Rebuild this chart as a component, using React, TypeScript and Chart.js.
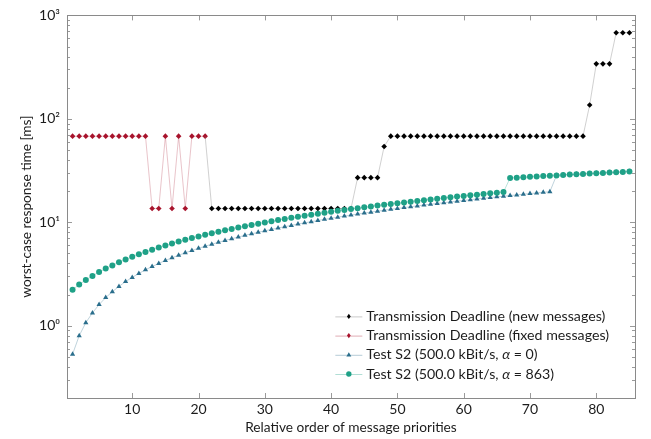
import React, { useEffect, useRef } from 'react';
import { Chart, registerables } from 'chart.js';

Chart.register(...registerables);

// ---------- data ----------
// x positions are message priority order 1..85
const fixedStart = 1;
const fixedDeadline = [68, 68, 68, 68, 68, 68, 68, 68, 68, 68, 68, 68, 13.6, 13.6, 68, 13.6, 68, 13.6, 68, 68, 68];

// first value (x = 21) only links the two deadline series, it has no marker
const newStart = 21;
const newDeadline = [
  68,
  13.6, 13.6, 13.6, 13.6, 13.6, 13.6, 13.6, 13.6, 13.6, 13.6, 13.6,
  13.6, 13.6, 13.6, 13.6, 13.6, 13.6, 13.6, 13.6, 13.6, 13.6, 13.6,
  27, 27, 27, 27,
  54,
  68, 68, 68, 68, 68, 68, 68, 68, 68, 68, 68, 68, 68, 68, 68,
  68, 68, 68, 68, 68, 68, 68, 68, 68, 68, 68, 68, 68, 68, 68,
  136,
  340, 340, 340,
  680, 680, 680,
];

const alpha0Start = 1;
const alpha0 = [
  0.53, 0.80, 1.07, 1.33, 1.60, 1.87, 2.13, 2.40, 2.67, 2.93,
  3.20, 3.47, 3.73, 4.00, 4.27, 4.53, 4.80, 5.07, 5.33, 5.60,
  5.87, 6.13, 6.40, 6.67, 6.93, 7.20, 7.47, 7.73, 8.00, 8.27,
  8.53, 8.80, 9.07, 9.33, 9.60, 9.87, 10.13, 10.40, 10.67, 10.93,
  11.20, 11.47, 11.73, 12.00, 12.27, 12.53, 12.80, 13.07, 13.33, 13.60,
  13.87, 14.13, 14.40, 14.67, 14.93, 15.20, 15.47, 15.73, 16.00, 16.27,
  16.53, 16.80, 17.07, 17.33, 17.60, 17.87, 18.13, 18.40, 18.67, 18.93,
  19.20, 19.47, 19.73, 28.4, 28.7, 28.9, 29.1, 29.3, 29.6, 29.8,
  30.0, 30.3, 30.5, 30.7, 31.0,
];

const alpha863Start = 1;
const alpha863 = [
  2.23, 2.50, 2.77, 3.03, 3.30, 3.57, 3.83, 4.10, 4.37, 4.63,
  4.90, 5.17, 5.43, 5.70, 5.97, 6.23, 6.50, 6.77, 7.03, 7.30,
  7.57, 7.83, 8.10, 8.37, 8.63, 8.90, 9.17, 9.43, 9.70, 9.97,
  10.23, 10.50, 10.77, 11.03, 11.30, 11.57, 11.83, 12.10, 12.37, 12.63,
  12.90, 13.17, 13.43, 13.70, 13.97, 14.23, 14.50, 14.77, 15.03, 15.30,
  15.57, 15.83, 16.10, 16.37, 16.63, 16.90, 17.17, 17.43, 17.70, 17.97,
  18.23, 18.50, 18.77, 19.03, 19.30, 19.57, 26.8, 27.0, 27.3, 27.5,
  27.7, 28.0, 28.2, 28.4, 28.7, 28.9, 29.1, 29.3, 29.6, 29.8,
  30.0, 30.3, 30.5, 30.7, 31.0,
];

const xTicks = [10, 20, 30, 40, 50, 60, 70, 80];
const yTicks = [1, 10, 100, 1000];
const yTickLabels = ['10⁰', '10¹', '10²', '10³'];
const xRange = [0.16, 85.84];
const yRange = [0.2, 1000];

const legendLabels = [
  ['Transmission Deadline (new messages)'],
  ['Transmission Deadline (fixed messages)'],
  ['Test S2 (500.0 kBit/s, ', 'α', ' = 0)'],
  ['Test S2 (500.0 kBit/s, ', 'α', ' = 863)'],
];

const xTitle = 'Relative order of message priorities';
const yTitle = 'worst-case response time [ms]';

// ---------- styles ----------
const FONT = 'Lato, "DejaVu Sans", sans-serif';
const TEXT = '#1c1c1c';
const C_NEW = '#000000';
const C_FIXED = '#a8132c';
const C_A0 = '#2a6e8c';
const C_A863 = '#1fa187';

const toPoints = (start: number, vals: number[]) => vals.map((v, i) => ({ x: start + i, y: v }));

function fade(hex: string, a: number) {
  const n = parseInt(hex.slice(1), 16);
  return `rgba(${(n >> 16) & 255},${(n >> 8) & 255},${n & 255},${a})`;
}

function drawMarker(ctx: CanvasRenderingContext2D, kind: string, x: number, y: number, r: number, color: string) {
  ctx.save();
  ctx.fillStyle = color;
  ctx.beginPath();
  if (kind === 'diamond') {
    ctx.moveTo(x, y - r * 1.15);
    ctx.lineTo(x + r * 0.85, y);
    ctx.lineTo(x, y + r * 1.15);
    ctx.lineTo(x - r * 0.85, y);
  } else if (kind === 'triangle') {
    ctx.moveTo(x, y - r);
    ctx.lineTo(x + r * 0.95, y + r * 0.65);
    ctx.lineTo(x - r * 0.95, y + r * 0.65);
  } else {
    ctx.arc(x, y, r, 0, Math.PI * 2);
  }
  ctx.closePath();
  ctx.fill();
  ctx.restore();
}

const frameTicks = {
  id: 'frameTicks',
  afterDatasetsDraw(chart: any) {
    const { ctx, chartArea: a, scales } = chart;
    const xs = scales.x;
    const ys = scales.y;
    ctx.save();
    ctx.strokeStyle = '#9a9a9a';
    ctx.lineWidth = 1;
    ctx.beginPath();
    xTicks.forEach((t) => {
      const px = Math.round(xs.getPixelForValue(t)) + 0.5;
      ctx.moveTo(px, a.bottom);
      ctx.lineTo(px, a.bottom - 5);
      ctx.moveTo(px, a.top);
      ctx.lineTo(px, a.top + 5);
    });
    yTicks.forEach((t) => {
      const py = Math.round(ys.getPixelForValue(t)) + 0.5;
      ctx.moveTo(a.left, py);
      ctx.lineTo(a.left + 5, py);
      ctx.moveTo(a.right, py);
      ctx.lineTo(a.right - 5, py);
    });
    for (let d = 0.1; d < yRange[1]; d *= 10) {
      for (let m = 2; m <= 9; m++) {
        const v = d * m;
        if (v < yRange[0] || v > yRange[1]) continue;
        const py = Math.round(ys.getPixelForValue(v)) + 0.5;
        ctx.moveTo(a.left, py);
        ctx.lineTo(a.left + 3, py);
        ctx.moveTo(a.right, py);
        ctx.lineTo(a.right - 3, py);
      }
    }
    ctx.stroke();
    ctx.strokeStyle = '#8a8a8a';
    ctx.strokeRect(Math.round(a.left) + 0.5, Math.round(a.top) + 0.5, Math.round(a.right - a.left), Math.round(a.bottom - a.top));
    ctx.restore();
  },
};

const legendPlugin = {
  id: 'insideLegend',
  afterDraw(chart: any) {
    const { ctx, chartArea: a } = chart;
    const entries = [
      { kind: 'diamond', color: C_NEW, r: 2.2 },
      { kind: 'diamond', color: C_FIXED, r: 2.2 },
      { kind: 'triangle', color: C_A0, r: 2.6 },
      { kind: 'circle', color: C_A863, r: 2.7 },
    ];
    ctx.save();
    const normal = `14.2px ${FONT}`;
    const italic = `italic 14.2px ${FONT}`;
    const widthOf = (parts: string[]) =>
      parts.reduce((w, p, i) => {
        ctx.font = i === 1 ? italic : normal;
        return w + ctx.measureText(p).width;
      }, 0);
    const maxW = Math.max(...legendLabels.map(widthOf));
    const rowH = 19.2;
    const lineLen = 27;
    const left = a.right - 26 - maxW - lineLen - 4;
    const lastY = a.bottom - 24;
    legendLabels.forEach((parts, i) => {
      const y = lastY - (legendLabels.length - 1 - i) * rowH;
      const e = entries[i];
      ctx.strokeStyle = fade(e.color === C_NEW ? '#666666' : e.color, 0.35);
      ctx.lineWidth = 1;
      ctx.beginPath();
      ctx.moveTo(left, y + 0.5);
      ctx.lineTo(left + lineLen, y + 0.5);
      ctx.stroke();
      drawMarker(ctx, e.kind, left + lineLen / 2, y, e.r, e.color);
      let x = left + lineLen + 4;
      ctx.fillStyle = TEXT;
      ctx.textBaseline = 'middle';
      ctx.textAlign = 'left';
      parts.forEach((p, j) => {
        ctx.font = j === 1 ? italic : normal;
        ctx.fillText(p, x, y);
        x += ctx.measureText(p).width;
      });
    });
    ctx.restore();
  },
};

export default function App() {
  const ref = useRef<HTMLCanvasElement | null>(null);

  useEffect(() => {
    if (!ref.current) return;
    const common = { showLine: true, borderWidth: 1, pointBorderWidth: 0, pointHoverRadius: 0 };
    const chart = new Chart(ref.current, {
      type: 'scatter',
      data: {
        datasets: [
          {
            ...common,
            label: 'Test S2 (500.0 kBit/s, α = 863)',
            data: toPoints(alpha863Start, alpha863),
            borderColor: fade(C_A863, 0.3),
            backgroundColor: C_A863,
            pointBackgroundColor: C_A863,
            pointStyle: 'circle',
            pointRadius: 3,
          },
          {
            ...common,
            label: 'Test S2 (500.0 kBit/s, α = 0)',
            data: toPoints(alpha0Start, alpha0),
            borderColor: fade(C_A0, 0.3),
            backgroundColor: C_A0,
            pointBackgroundColor: C_A0,
            pointStyle: 'triangle',
            pointRadius: 3,
          },
          {
            ...common,
            label: 'Transmission Deadline (new messages)',
            data: toPoints(newStart, newDeadline),
            borderColor: 'rgba(120,120,120,0.35)',
            backgroundColor: C_NEW,
            pointBackgroundColor: C_NEW,
            pointStyle: 'rectRot',
            pointRadius: (c: any) => (c.dataIndex === 0 ? 0 : 2.8),
          },
          {
            ...common,
            label: 'Transmission Deadline (fixed messages)',
            data: toPoints(fixedStart, fixedDeadline),
            borderColor: fade(C_FIXED, 0.25),
            backgroundColor: C_FIXED,
            pointBackgroundColor: C_FIXED,
            pointStyle: 'rectRot',
            pointRadius: 2.8,
          },
        ],
      },
      options: {
        animation: false,
        responsive: true,
        maintainAspectRatio: false,
        layout: { padding: { top: 10, right: 16, left: 0, bottom: 0 } },
        plugins: { legend: { display: false }, tooltip: { enabled: false } },
        scales: {
          x: {
            type: 'linear',
            min: xRange[0],
            max: xRange[1],
            grid: { display: false, drawTicks: false },
            border: { display: false },
            afterBuildTicks: (s: any) => {
              s.ticks = xTicks.map((v) => ({ value: v }));
            },
            afterFit: (s: any) => {
              s.height = 41;
            },
            ticks: {
              autoSkip: false,
              maxRotation: 0,
              padding: 3,
              color: TEXT,
              font: { family: FONT, size: 14 },
              callback: (v: any) => String(v),
            },
            title: {
              display: true,
              text: xTitle,
              color: TEXT,
              font: { family: FONT, size: 13.7 },
              padding: { top: 0, bottom: 3 },
            },
          },
          y: {
            type: 'logarithmic',
            min: yRange[0],
            max: yRange[1],
            grid: { display: false, drawTicks: false },
            border: { display: false },
            afterBuildTicks: (s: any) => {
              s.ticks = yTicks.map((v) => ({ value: v }));
            },
            afterFit: (s: any) => {
              s.width = 67;
            },
            ticks: {
              autoSkip: false,
              padding: 7,
              color: TEXT,
              font: { family: FONT, size: 14 },
              callback: (v: any) => {
                const i = yTicks.indexOf(Number(v));
                return i >= 0 ? yTickLabels[i] : '';
              },
            },
            title: {
              display: true,
              text: yTitle,
              color: TEXT,
              font: { family: FONT, size: 13.7 },
              padding: { top: 18, bottom: 0 },
            },
          },
        },
      },
      plugins: [frameTicks, legendPlugin],
    } as any);
    return () => chart.destroy();
  }, []);

  return (
    <div style={{ position: 'fixed', left: 0, top: 0, width: 651, height: 439, background: '#fff' }}>
      <canvas ref={ref} />
    </div>
  );
}
